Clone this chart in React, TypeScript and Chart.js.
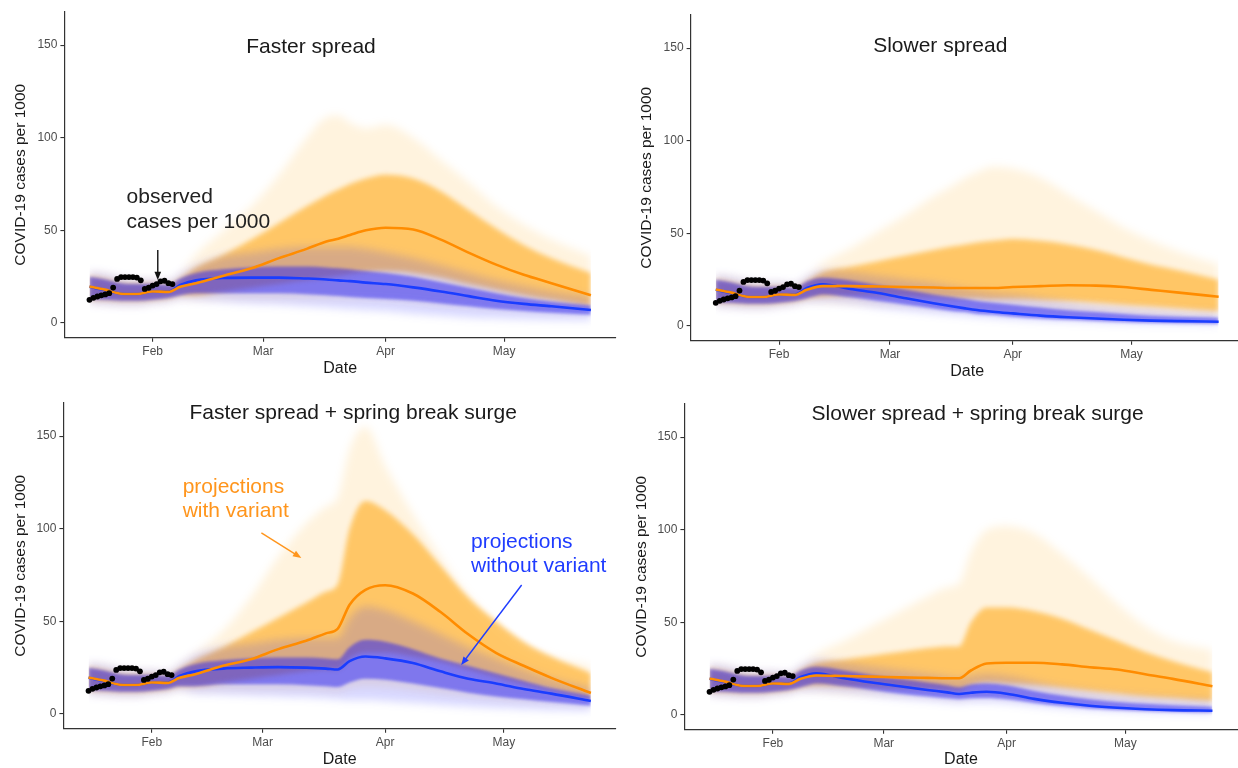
import React, { useEffect, useRef } from "react";
import { Chart, registerables } from "chart.js";

Chart.register(...registerables);

const FONT = '"Liberation Sans", Arial, Helvetica, sans-serif';

// Day of year (1 = Jan 1)
const DAYS = [16, 20, 24, 28, 32, 36, 39, 43, 50, 57, 64, 71, 76, 79, 82, 86, 91, 98, 105, 112, 119, 126, 133, 143];
const TICK_DAYS = [32, 60, 91, 121];
const TICK_LABELS = ["Feb", "Mar", "Apr", "May"];
const Y_TICKS = [0, 50, 100, 150];

const OBS_DAYS = [16, 17, 18, 19, 20, 21, 22, 23, 24, 25, 26, 27, 28, 29, 30, 31, 32, 33, 34, 35, 36, 37];
const OBS_VALUES = [12.5, 13.6, 14.3, 14.9, 15.4, 16.1, 19.1, 23.8, 24.8, 24.8, 24.8, 24.8, 24.5, 23.0, 18.4, 19.0, 20.2, 21.0, 22.5, 22.8, 21.5, 21.0];

// shared start of all projections (first 7 days of DAYS)
const START_MAX = [27.5, 26.5, 24.5, 23.5, 23.5, 22.5, 26.5];
const START_HI = [25, 23.5, 21.5, 21, 21, 20.5, 24];
const START_LO = [13, 12.5, 12, 12, 12.5, 13.5, 15];
const START_MIN = [10.5, 10, 9.5, 9.5, 10.5, 11.5, 13];
const START_ORANGE_MED = [19.7, 18, 15.8, 15.6, 17, 16.8, 19.5];
const START_BLUE_MED = [19.5, 17.8, 15.8, 15.6, 17, 17, 20.5];

// Faster spread (remaining 17 days)
const FAST_ORANGE_MED = [21.5, 25.5, 29.5, 35, 40, 44, 45.5, 47.5, 50, 51.4, 50.5, 45, 38, 31.5, 26, 21.5, 15];
const FAST_ORANGE_MAX = [37, 50, 63, 80, 100, 111, 112, 108, 105, 107, 100, 88, 76, 63, 53, 45, 36];
const FAST_ORANGE_HI = [30, 37, 45, 54, 63, 69, 72, 75, 78, 80, 78, 71, 61, 51, 42, 35, 27];
const FAST_ORANGE_LO = [15, 17, 19, 21, 23, 24.5, 25.5, 26.5, 27.5, 28, 27, 24.5, 21, 18, 15, 12.5, 9];
const FAST_ORANGE_MIN = [12.5, 13, 13, 13, 13, 13, 13, 13, 13, 12.5, 11.5, 10, 9, 8, 7, 6, 5];
const FAST_BLUE_MED = [23, 24.3, 24.5, 24.5, 24, 23.5, 23, 22.6, 21.8, 21, 19.2, 17, 14.5, 12, 10.3, 9, 7];
const FAST_BLUE_MAX = [31, 36, 38, 40, 41, 41, 41, 41, 40, 38, 35, 31, 27, 23, 20, 17, 14];
const FAST_BLUE_HI = [27, 29, 30, 30.5, 30.5, 30, 29.5, 29, 28, 27, 25, 22, 19, 16, 13.5, 11.5, 9.5];
const FAST_BLUE_LO = [16, 16, 16, 16, 15.5, 15, 14.5, 14, 13.5, 13, 12, 10.5, 9, 7.5, 6.5, 5.5, 4.5];
const FAST_BLUE_MIN = [12.5, 11.5, 10.5, 10, 9, 8.5, 8, 7.5, 7, 6.5, 5, 4, 3, 2.5, 2, 1.8, 1.5];

// Slower spread
const SLOW_ORANGE_MED = [21.5, 21.5, 21.3, 21, 20.8, 20.5, 20.5, 20.5, 20.5, 21, 21.5, 22, 21.8, 21, 19.5, 18, 15.8];
const SLOW_ORANGE_MAX = [34, 42, 51, 60, 70, 76, 80, 83, 86, 85, 80, 71, 62, 53, 46, 40, 33];
const SLOW_ORANGE_HI = [29, 32, 35, 38, 41, 43, 44, 45, 46, 47, 46, 44, 41, 37, 33, 30, 25];
const SLOW_ORANGE_LO = [16, 16.5, 16.5, 16, 15.5, 15, 15, 15, 14.5, 14.5, 14, 13.5, 12.5, 11.5, 10.5, 9.5, 8];
const SLOW_ORANGE_MIN = [12.5, 12, 11.5, 11, 10, 9.5, 9, 8.5, 8, 7.5, 6.5, 5.5, 5, 4.5, 4, 3.5, 3];
const SLOW_BLUE_MED = [22.5, 20, 17.8, 15, 12.3, 10.5, 9.5, 8.6, 7.7, 6.8, 5.6, 4.7, 4, 3.4, 2.9, 2.6, 2.3];
const SLOW_BLUE_MAX = [30, 29, 27, 25, 23, 21, 20, 19, 18, 17, 15, 13, 11, 10, 9, 8, 7];
const SLOW_BLUE_HI = [26, 24.5, 22, 19.5, 17, 15.5, 14.5, 13.5, 12.5, 11.5, 10, 8.5, 7.5, 6.5, 5.5, 5, 4.5];
const SLOW_BLUE_LO = [17, 15.5, 13.5, 11.5, 9.5, 8, 7.5, 6.5, 6, 5, 4, 3.3, 2.7, 2.2, 1.8, 1.5, 1.2];
const SLOW_BLUE_MIN = [13, 12, 10, 8.5, 7, 6, 5.5, 5, 4.5, 3.8, 3, 2.5, 2, 1.5, 1.2, 1, 0.8];

// Faster spread + spring break surge
const FAST_SB_ORANGE_MED = [21.5, 26, 29.5, 35, 39.5, 43.5, 46, 59, 67, 69.5, 65, 55, 43, 33, 26, 19.5, 11.3];
const FAST_SB_ORANGE_MAX = [33, 45, 63, 85, 103, 112, 117, 143, 155, 134, 108, 85, 64, 49, 37, 31, 26];
const FAST_SB_ORANGE_HI = [29, 36, 44, 52, 60, 66, 70, 100, 115, 110, 97, 80, 63, 50, 39, 31, 22];
const FAST_SB_ORANGE_LO = [15, 17, 19, 21, 23, 24, 24, 30, 33, 33, 31, 28, 24, 20, 16, 12.5, 8];
const FAST_SB_ORANGE_MIN = [12.5, 13, 13, 13, 13, 12.5, 12, 14, 15, 14.5, 13, 11, 9.5, 8, 7, 6, 4.5];
const FAST_SB_BLUE_MED = [23, 24.5, 25, 25.3, 25, 24.5, 24, 28.5, 31, 30, 27.5, 23, 19, 16.5, 13.5, 11, 7];
const FAST_SB_BLUE_MAX = [32, 36, 38, 40, 41, 41, 41, 52, 58, 56, 50, 43, 36, 30, 24, 19, 14];
const FAST_SB_BLUE_HI = [27, 29, 30, 30.5, 30.5, 30, 29.5, 36, 40, 39, 35, 30, 26, 22, 18, 14, 10];
const FAST_SB_BLUE_LO = [15, 16, 16, 16, 15.5, 15, 14.5, 17, 19, 18.5, 16.5, 14, 11.5, 9.5, 8, 6.5, 4.5];
const FAST_SB_BLUE_MIN = [11, 10.5, 10, 9.5, 9, 8.5, 8, 7.5, 7.5, 7, 6, 5, 4, 3.3, 2.7, 2.2, 1.8];

// Slower spread + spring break surge
const SLOW_SB_ORANGE_MED = [21.3, 21, 20.7, 20.3, 20, 19.8, 19.8, 24, 27.8, 28.2, 28.2, 27.3, 25.8, 24.5, 22, 19.5, 15.5];
const SLOW_SB_ORANGE_MAX = [33, 40, 48, 56, 64, 69, 71, 88, 100, 102, 98, 87, 74, 60, 48, 40, 35];
const SLOW_SB_ORANGE_HI = [28, 30, 32, 34, 36, 37, 37, 50, 58, 58, 56, 52, 46, 40, 34, 29, 23];
const SLOW_SB_ORANGE_LO = [16, 15.5, 15, 14.5, 14, 13.5, 13, 16, 17.5, 17, 16, 14.5, 13, 11.5, 10, 9, 7.5];
const SLOW_SB_ORANGE_MIN = [12.5, 11.5, 11, 10.5, 10, 9, 8.5, 9.5, 10, 9.5, 8.5, 7, 6, 5, 4.5, 4, 3];
const SLOW_SB_BLUE_MED = [22.5, 19.8, 17.5, 15.5, 13.5, 12.2, 11.3, 12, 12.5, 11.5, 8.7, 6.6, 5, 3.9, 3.1, 2.6, 2.3];
const SLOW_SB_BLUE_MAX = [30, 28, 26, 24, 22, 20.5, 19.5, 21, 22, 21, 18, 15, 13, 11, 10, 9, 8];
const SLOW_SB_BLUE_HI = [26, 24, 21.5, 19.5, 17.5, 16, 15, 16.5, 17, 16, 13, 10.5, 8.5, 7, 6, 5.2, 4.5];
const SLOW_SB_BLUE_LO = [17, 15.5, 13.5, 11.5, 10, 9, 8.5, 9, 9.2, 8.5, 6.5, 4.8, 3.5, 2.7, 2.1, 1.7, 1.3];
const SLOW_SB_BLUE_MIN = [13, 12, 10.5, 9, 8, 7, 6.5, 7, 7, 6.5, 5, 3.8, 2.8, 2.1, 1.6, 1.2, 1];

const ORANGE_LINE = "#ff8c00";
const BLUE_LINE = "#1a3dff";
const ORANGE_TEXT = "#ff951c";
const BLUE_TEXT = "#1f3cff";

type Note = { lines: string[]; day: number; val: number; color: string; align: CanvasTextAlign; gap: number };
type Arrow = { from: [number, number]; to: [number, number]; color: string };

type PanelCfg = {
  key: string;
  box: { left: number; top: number; width: number; height: number };
  yWidth: number;
  xHeight: number;
  padTop: number;
  padRight: number;
  yTitlePad: number;
  xTitlePad: number;
  title: { text: string; day: number; val: number };
  notes: Note[];
  arrows: Arrow[];
  orange: { med: number[]; max: number[]; hi: number[]; lo: number[]; min: number[] };
  blue: { med: number[]; max: number[]; hi: number[]; lo: number[]; min: number[] };
};

const full = (start: number[], rest: number[]) => [...start, ...rest];
const pts = (vals: number[]) => DAYS.map((d, i) => ({ x: d, y: vals[i] }));

const makeGroup = (med: number[], max: number[], hi: number[], lo: number[], min: number[], startMed: number[]) => ({
  med: full(startMed, med),
  max: full(START_MAX, max),
  hi: full(START_HI, hi),
  lo: full(START_LO, lo),
  min: full(START_MIN, min),
});

const PANELS: PanelCfg[] = [
  {
    key: "p1",
    box: { left: 0, top: 0, width: 620, height: 390 },
    yWidth: 64.4, xHeight: 52.2, padTop: 11.7, padRight: 3, yTitlePad: 13, xTitlePad: 13,
    title: { text: "Faster spread", day: 72.1, val: 149 },
    notes: [{ lines: ["observed", "cases per 1000"], day: 25.4, val: 68, color: "#222222", align: "left", gap: 25 }],
    arrows: [{ from: [33.3, 39.4], to: [33.3, 23.2], color: "#111111" }],
    orange: makeGroup(FAST_ORANGE_MED, FAST_ORANGE_MAX, FAST_ORANGE_HI, FAST_ORANGE_LO, FAST_ORANGE_MIN, START_ORANGE_MED),
    blue: makeGroup(FAST_BLUE_MED, FAST_BLUE_MAX, FAST_BLUE_HI, FAST_BLUE_LO, FAST_BLUE_MIN, START_BLUE_MED),
  },
  {
    key: "p2",
    box: { left: 620, top: 0, width: 630, height: 390 },
    yWidth: 70.6, xHeight: 49.2, padTop: 14.7, padRight: 6.2, yTitlePad: 19, xTitlePad: 10,
    title: { text: "Slower spread", day: 72.7, val: 151 },
    notes: [],
    arrows: [],
    orange: makeGroup(SLOW_ORANGE_MED, SLOW_ORANGE_MAX, SLOW_ORANGE_HI, SLOW_ORANGE_LO, SLOW_ORANGE_MIN, START_ORANGE_MED),
    blue: makeGroup(SLOW_BLUE_MED, SLOW_BLUE_MAX, SLOW_BLUE_HI, SLOW_BLUE_LO, SLOW_BLUE_MIN, START_BLUE_MED),
  },
  {
    key: "p3",
    box: { left: 0, top: 390, width: 620, height: 378 },
    yWidth: 63.4, xHeight: 39.2, padTop: 12.7, padRight: 3.4, yTitlePad: 13, xTitlePad: 0,
    title: { text: "Faster spread + spring break surge", day: 82.9, val: 162.4 },
    notes: [
      { lines: ["projections", "with variant"], day: 39.8, val: 122.5, color: ORANGE_TEXT, align: "left", gap: 24 },
      { lines: ["projections", "without variant"], day: 112.7, val: 92.8, color: BLUE_TEXT, align: "left", gap: 24 },
    ],
    arrows: [
      { from: [59.7, 97.7], to: [69.8, 84.2], color: ORANGE_TEXT },
      { from: [125.5, 69.6], to: [110.2, 26.4], color: BLUE_TEXT },
    ],
    orange: makeGroup(FAST_SB_ORANGE_MED, FAST_SB_ORANGE_MAX, FAST_SB_ORANGE_HI, FAST_SB_ORANGE_LO, FAST_SB_ORANGE_MIN, START_ORANGE_MED),
    blue: makeGroup(FAST_SB_BLUE_MED, FAST_SB_BLUE_MAX, FAST_SB_BLUE_HI, FAST_SB_BLUE_LO, FAST_SB_BLUE_MIN, START_BLUE_MED),
  },
  {
    key: "p4",
    box: { left: 620, top: 390, width: 630, height: 378 },
    yWidth: 64.4, xHeight: 38.2, padTop: 13.7, padRight: 12.4, yTitlePad: 14, xTitlePad: 0,
    title: { text: "Slower spread + spring break surge", day: 83.7, val: 162.4 },
    notes: [],
    arrows: [],
    orange: makeGroup(SLOW_SB_ORANGE_MED, SLOW_SB_ORANGE_MAX, SLOW_SB_ORANGE_HI, SLOW_SB_ORANGE_LO, SLOW_SB_ORANGE_MIN, START_ORANGE_MED),
    blue: makeGroup(SLOW_SB_BLUE_MED, SLOW_SB_BLUE_MAX, SLOW_SB_BLUE_HI, SLOW_SB_BLUE_LO, SLOW_SB_BLUE_MIN, START_BLUE_MED),
  },
];

function drawArrow(ctx: CanvasRenderingContext2D, x1: number, y1: number, x2: number, y2: number, color: string) {
  const head = 9;
  const ang = Math.atan2(y2 - y1, x2 - x1);
  ctx.strokeStyle = color;
  ctx.fillStyle = color;
  ctx.lineWidth = 1.4;
  ctx.beginPath();
  ctx.moveTo(x1, y1);
  ctx.lineTo(x2 - Math.cos(ang) * head * 0.7, y2 - Math.sin(ang) * head * 0.7);
  ctx.stroke();
  ctx.beginPath();
  ctx.moveTo(x2, y2);
  ctx.lineTo(x2 - head * Math.cos(ang - 0.38), y2 - head * Math.sin(ang - 0.38));
  ctx.lineTo(x2 - head * Math.cos(ang + 0.38), y2 - head * Math.sin(ang + 0.38));
  ctx.closePath();
  ctx.fill();
}

// Softening applied while each band is filled (dataset index -> css filter).
// Datasets are painted from the highest index down to 0.
const BLUR_BEFORE: Record<number, string> = {
  10: "blur(4px)", // orange outer range
  8: "blur(2.5px)", // orange central band
  6: "blur(4px)", // blue outer range
  4: "blur(1.5px)", // blue central band
};

const softBandsPlugin = {
  id: "softBands",
  beforeDatasetsDraw(chart: any) {
    const ctx = chart.ctx;
    const xs = chart.scales.x;
    const area = chart.chartArea;
    const x0 = xs.getPixelForValue(DAYS[0]);
    const x1 = xs.getPixelForValue(DAYS[DAYS.length - 1]);
    ctx.save();
    ctx.beginPath();
    ctx.rect(x0, area.top, x1 - x0, area.bottom - area.top);
    ctx.clip();
    ctx.filter = BLUR_BEFORE[10];
  },
  afterDatasetDraw(chart: any, args: any) {
    const ctx = chart.ctx;
    if (args.index === 3) {
      ctx.restore();
      return;
    }
    const next = args.index - 1;
    if (BLUR_BEFORE[next] !== undefined) ctx.filter = BLUR_BEFORE[next];
  },
};

function makeNotesPlugin(cfg: PanelCfg) {
  return {
    id: "notes_" + cfg.key,
    afterDatasetsDraw(chart: any) {
      const { ctx } = chart;
      const xs = chart.scales.x;
      const ys = chart.scales.y;
      ctx.save();
      ctx.filter = "none";
      ctx.textBaseline = "middle";
      ctx.font = `21px ${FONT}`;
      ctx.fillStyle = "#1a1a1a";
      ctx.textAlign = "center";
      ctx.fillText(cfg.title.text, xs.getPixelForValue(cfg.title.day), ys.getPixelForValue(cfg.title.val));
      for (const n of cfg.notes) {
        ctx.fillStyle = n.color;
        ctx.textAlign = n.align;
        const px = xs.getPixelForValue(n.day);
        const py = ys.getPixelForValue(n.val);
        n.lines.forEach((line, i) => ctx.fillText(line, px, py + i * n.gap));
      }
      for (const a of cfg.arrows) {
        drawArrow(
          ctx,
          xs.getPixelForValue(a.from[0]),
          ys.getPixelForValue(a.from[1]),
          xs.getPixelForValue(a.to[0]),
          ys.getPixelForValue(a.to[1]),
          a.color
        );
      }
      ctx.restore();
    },
  };
}

function buildDatasets(cfg: PanelCfg) {
  const band = (vals: number[]) => ({
    data: pts(vals),
    borderWidth: 0,
    borderColor: "rgba(0,0,0,0)",
    pointRadius: 0,
    fill: false as any,
    cubicInterpolationMode: "monotone" as const,
  });
  const obs = {
    data: OBS_DAYS.map((d, i) => ({ x: d, y: OBS_VALUES[i] })),
    showLine: false,
    pointRadius: 2.9,
    pointBackgroundColor: "#000000",
    pointBorderColor: "#000000",
    pointBorderWidth: 0,
  };
  const orangeMed = {
    data: pts(cfg.orange.med),
    borderColor: ORANGE_LINE,
    borderWidth: 2.6,
    pointRadius: 0,
    fill: false,
    cubicInterpolationMode: "monotone" as const,
  };
  const blueMed = {
    data: pts(cfg.blue.med),
    borderColor: BLUE_LINE,
    borderWidth: 2.6,
    pointRadius: 0,
    fill: false,
    cubicInterpolationMode: "monotone" as const,
  };
  return [
    obs, // 0
    orangeMed, // 1
    blueMed, // 2
    band(cfg.blue.lo), // 3
    { ...band(cfg.blue.hi), fill: 3, backgroundColor: "rgba(38,32,245,0.5)" }, // 4
    band(cfg.blue.min), // 5
    { ...band(cfg.blue.max), fill: 5, backgroundColor: "rgba(60,60,255,0.2)" }, // 6
    band(cfg.orange.lo), // 7
    { ...band(cfg.orange.hi), fill: 7, backgroundColor: "rgba(255,160,0,0.54)" }, // 8
    band(cfg.orange.min), // 9
    { ...band(cfg.orange.max), fill: 9, backgroundColor: "rgba(255,165,0,0.13)" }, // 10
  ];
}

function Panel({ cfg }: { cfg: PanelCfg }) {
  const ref = useRef<HTMLCanvasElement | null>(null);
  useEffect(() => {
    if (!ref.current) return;
    const tickFont = { size: 12, family: FONT };
    const chart = new Chart(ref.current, {
      type: "line",
      data: { datasets: buildDatasets(cfg) as any },
      options: {
        animation: false,
        responsive: false,
        maintainAspectRatio: false,
        events: [],
        layout: { padding: { left: 0, top: cfg.padTop, right: cfg.padRight, bottom: 0 } },
        plugins: { legend: { display: false }, tooltip: { enabled: false }, filler: { propagate: false } },
        scales: {
          x: {
            type: "linear",
            min: 9.65,
            max: 149.35,
            afterBuildTicks: (s: any) => {
              s.ticks = TICK_DAYS.map((v) => ({ value: v }));
            },
            afterFit: (s: any) => {
              s.height = cfg.xHeight;
            },
            ticks: {
              autoSkip: false,
              maxRotation: 0,
              color: "#4d4d4d",
              font: tickFont,
              padding: 3,
              callback: (v: any) => {
                const i = TICK_DAYS.indexOf(Number(v));
                return i >= 0 ? TICK_LABELS[i] : "";
              },
            },
            grid: { drawOnChartArea: false, drawTicks: true, tickLength: 4, color: "#333333", lineWidth: 1.1 },
            border: { display: true, color: "#333333", width: 1.2 },
            title: {
              display: true,
              text: "Date",
              color: "#1a1a1a",
              font: { size: 16, family: FONT, lineHeight: 1 },
              padding: { top: 0, bottom: cfg.xTitlePad },
            },
          },
          y: {
            type: "linear",
            min: -8,
            max: 168,
            afterBuildTicks: (s: any) => {
              s.ticks = Y_TICKS.map((v) => ({ value: v }));
            },
            afterFit: (s: any) => {
              s.width = cfg.yWidth;
            },
            ticks: { color: "#4d4d4d", font: tickFont, padding: 3 },
            grid: { drawOnChartArea: false, drawTicks: true, tickLength: 4, color: "#333333", lineWidth: 1.1 },
            border: { display: true, color: "#333333", width: 1.2 },
            title: {
              display: true,
              text: "COVID-19 cases per 1000",
              color: "#1a1a1a",
              font: { size: 15.5, family: FONT, lineHeight: 1 },
              padding: { top: cfg.yTitlePad, bottom: 0 },
            },
          },
        },
      } as any,
      plugins: [softBandsPlugin, makeNotesPlugin(cfg)],
    });
    return () => chart.destroy();
  }, [cfg]);
  return (
    <canvas
      ref={ref}
      width={cfg.box.width}
      height={cfg.box.height}
      style={{ position: "absolute", left: cfg.box.left, top: cfg.box.top, width: cfg.box.width, height: cfg.box.height }}
    />
  );
}

export default function App() {
  return (
    <div
      style={{
        position: "fixed",
        left: 0,
        top: 0,
        width: 1238,
        height: 768,
        overflow: "hidden",
        background: "#ffffff",
      }}
    >
      {PANELS.map((p) => (
        <Panel key={p.key} cfg={p} />
      ))}
    </div>
  );
}
